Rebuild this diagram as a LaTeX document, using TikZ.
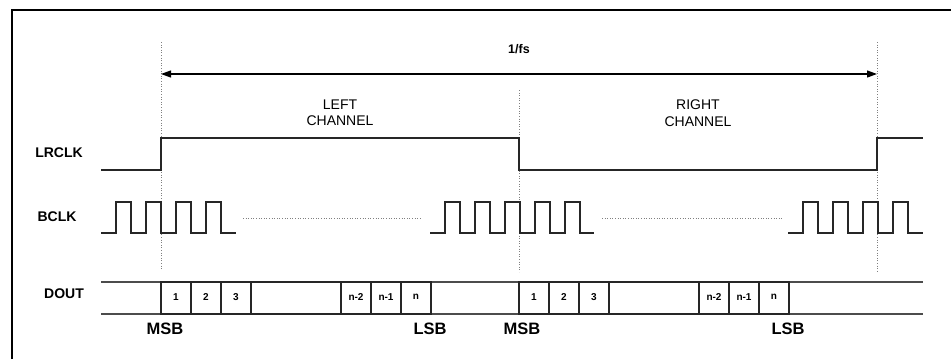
\documentclass[tikz,border=0pt]{standalone}
\usepackage{fontspec}
\setmainfont{Liberation Sans}
\usetikzlibrary{arrows.meta}

\tikzset{
	sig/.style={line width=1.4pt, black!85},
	guide/.style={gray, dotted, line width=0.6pt},
	lbl/.style={font=\fontsize{14}{16}\selectfont\bfseries},
	chan/.style={font=\fontsize{14}{16.5}\selectfont, align=center},
	bit/.style={font=\fontsize{10}{12}\selectfont\bfseries},
	edgelbl/.style={font=\fontsize{16.5}{18}\selectfont\bfseries},
}

\begin{document}
\begin{tikzpicture}[x=1pt,y=-1pt]
	\useasboundingbox (0,0) rectangle (951,359);
	\draw[line width=1.5pt] (12,359) -- (12,10) -- (951,10);
	
	% guides
	\draw[guide] (161,42) -- (161,270);
	\draw[guide] (877,42) -- (877,273);
	\draw[guide] (519,90) -- (519,272);
	\draw[guide] (243,218) -- (421,218);
	\draw[guide] (602,218) -- (782,218);
	
	% frame period
	\draw[{Triangle[length=10pt,width=7pt]}-{Triangle[length=10pt,width=7pt]}, line width=1.2pt] (161,74) -- (877,74);
	\node[font=\fontsize{12.5}{14}\selectfont\bfseries] (fs) at (519,49) {1/fs};
	
	\node[chan] (left) at (340,113) {LEFT\\CHANNEL};
	\node[chan] (right) at (698,113) {RIGHT\\CHANNEL};
	
	\node[lbl] (lrclk) at (59,153) {LRCLK};
	\node[lbl] (bclk) at (57,217) {BCLK};
	\node[lbl] (dout) at (64,294) {DOUT};
	
	% LRCLK
	\draw[sig] (101,170) -- (161,170) -- (161,138) -- (519,138) -- (519,170) -- (877,170) -- (877,138) -- (923,138);
	
	% BCLK
	\foreach \s/\r/\n/\e in {101/116/3/236, 430/445/4/594, 788/803/3/923}{
		\draw[sig] (\s,233) \foreach \k in {0,...,\n}{ -- ({\r+30*\k},233) -- ({\r+30*\k},202) -- ({\r+15+30*\k},202) -- ({\r+15+30*\k},233)} -- (\e,233);
	}
	
	% DOUT
	\draw[line width=1.2pt, black!70] (101,282) -- (923,282);
	\draw[line width=1.2pt, black!70] (101,314) -- (923,314);
	\foreach \x/\t in {161/1, 191/2, 221/3, 341/n-2, 371/n-1, 401/n, 519/1, 549/2, 579/3, 699/n-2, 729/n-1, 759/n}{
		\draw[sig] (\x,282) rectangle ++(30,32);
		\node[bit] (bit\x) at (\x+15,297) {\t};
	}
	\draw[sig] (251,282) rectangle (341,314);
	\draw[sig] (609,282) rectangle (699,314);
	
	\node[edgelbl] (msbl) at (165,329) {MSB};
	\node[edgelbl] (lsbl) at (430,329) {LSB};
	\node[edgelbl] (msbr) at (522,329) {MSB};
	\node[edgelbl] (lsbr) at (788,329) {LSB};
	
\end{tikzpicture}
\end{document}
